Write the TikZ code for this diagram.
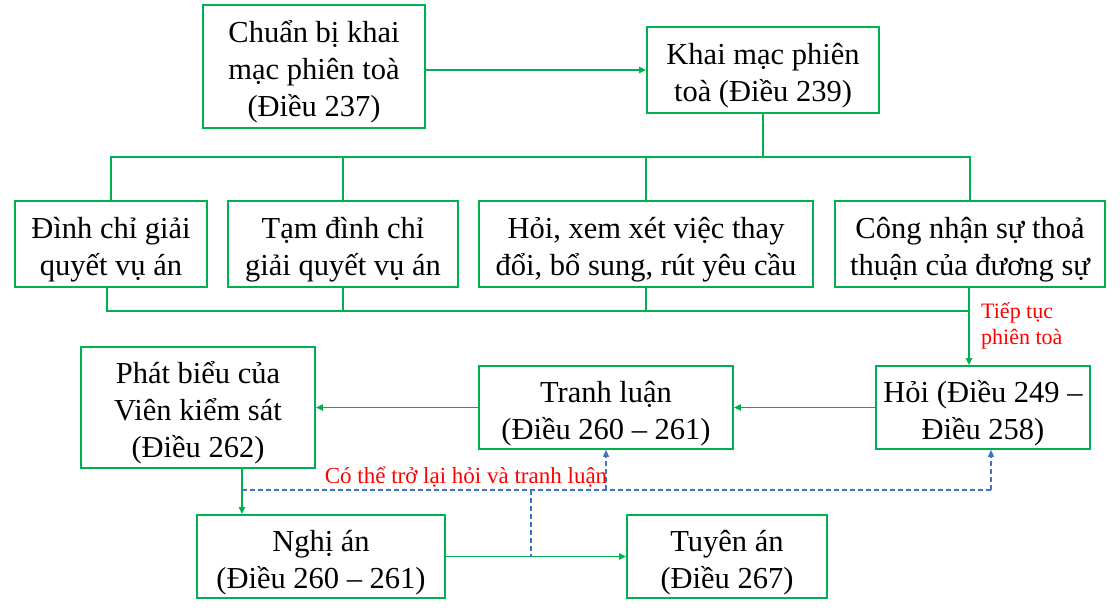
\documentclass[tikz,border=0pt]{standalone}
\usepackage{fontspec}
\setmainfont{Liberation Serif}
\usetikzlibrary{arrows.meta}
\definecolor{gr}{HTML}{00B050}
\definecolor{bl}{HTML}{4472C4}
\definecolor{rd}{HTML}{FF0000}
\newcommand{\bt}[1]{\raisebox{-6pt}[\height][\depth]{\begin{tabular}{@{}c@{}}#1\end{tabular}}}
\begin{document}
\begin{tikzpicture}[x=1pt,y=-1pt,
  box/.style={draw=gr,line width=1.6pt,fill=white,align=center,inner sep=1pt,
    font=\fontsize{30.5}{37}\selectfont},
  link/.style={draw=gr,line width=1.7pt},
  arr/.style={link,-{Triangle[length=7pt,width=6pt]}},
  dline/.style={draw=bl,line width=1.3pt,dash pattern=on 5pt off 3pt},
  darr/.style={dline,-{Triangle[length=7pt,width=6pt]}},
  lab/.style={text=rd,font=\fontsize{22}{26}\selectfont,align=left,inner sep=0pt}]
\useasboundingbox (0,0) rectangle (1120,608);
\node[box,minimum width=222pt,minimum height=123pt] (A) at (314,66.5) {\bt{Chuẩn bị khai\\mạc phiên toà\\(Điều 237)}};
\node[box,minimum width=232pt,minimum height=86pt] (B) at (763,70) {\bt{Khai mạc phiên\\toà (Điều 239)}};
\node[box,minimum width=192pt,minimum height=86pt] (C1) at (111,244) {\bt{Đình chỉ giải\\quyết vụ án}};
\node[box,minimum width=230pt,minimum height=86pt] (C2) at (343,244) {\bt{Tạm đình chỉ\\giải quyết vụ án}};
\node[box,minimum width=334pt,minimum height=86pt] (C3) at (646,244) {\bt{Hỏi, xem xét việc thay\\đổi, bổ sung, rút yêu cầu}};
\node[box,minimum width=270pt,minimum height=86pt] (C4) at (970,244) {\bt{Công nhận sự thoả\\thuận của đương sự}};
\node[box,minimum width=234pt,minimum height=121pt] (D1) at (198,407.5) {\bt{Phát biểu của\\Viên kiểm sát\\(Điều 262)}};
\node[box,minimum width=254pt,minimum height=83pt] (D2) at (606,407.5) {\bt{Tranh luận\\(Điều 260 – 261)}};
\node[box,minimum width=214pt,minimum height=83pt] (D3) at (983,407.5) {\bt{Hỏi (Điều 249 –\\Điều 258)}};
\node[box,minimum width=248pt,minimum height=83pt] (E1) at (321,556.5) {\bt{Nghị án\\(Điều 260 – 261)}};
\node[box,minimum width=200pt,minimum height=83pt] (E2) at (727,556.5) {\bt{Tuyên án\\(Điều 267)}};
\coordinate (bus1) at (0,157);
\coordinate (bus2) at (0,311);
\coordinate (dl) at (0,490);
\coordinate (dsplit) at (531,490);
\coordinate (ddrop) at (242,490);
% top
\draw[arr] (A.east |- B.west) -- (B.west);
\draw[link] (B.south) -- (B.south |- bus1);
\draw[link] (C1.north) -- (C1.north |- bus1) -- (C4.north |- bus1) -- (C4.north);
\draw[link] (C2.north) -- (C2.north |- bus1);
\draw[link] (C3.north) -- (C3.north |- bus1);
% bottom bus
\draw[link] ([xshift=-4pt]C1.south) -- ([xshift=-4pt]C1.south |- bus2) -- ([xshift=-1pt]C4.south |- bus2);
\draw[link] (C2.south) -- (C2.south |- bus2);
\draw[link] (C3.south) -- (C3.south |- bus2);
\draw[arr] ([xshift=-1pt]C4.south) -- ([xshift=-1pt]C4.south |- D3.north);
\node[lab,anchor=north west] (t1) at (981,302) {Tiếp tục\\phiên toà};
% row 3
\draw[arr] (D3.west) -- (D2.east);
\draw[arr] (D2.west) -- (D1.east);
\draw[arr] (ddrop |- D1.south) -- (ddrop |- E1.north);
\draw[arr] (E1.east) -- (E2.west);
% dashed
\draw[dline] (ddrop) -- ([xshift=8pt]D3.south |- dl);
\draw[darr] (D2.south |- dl) -- (D2.south);
\draw[darr] ([xshift=8pt]D3.south |- dl) -- ([xshift=8pt]D3.south);
\draw[dline] (dsplit) -- (dsplit |- E1.east);
\node[lab,font=\fontsize{23}{26}\selectfont] (t2) at (466,477) {Có thể trở lại hỏi và tranh luận};
\end{tikzpicture}
\end{document}
